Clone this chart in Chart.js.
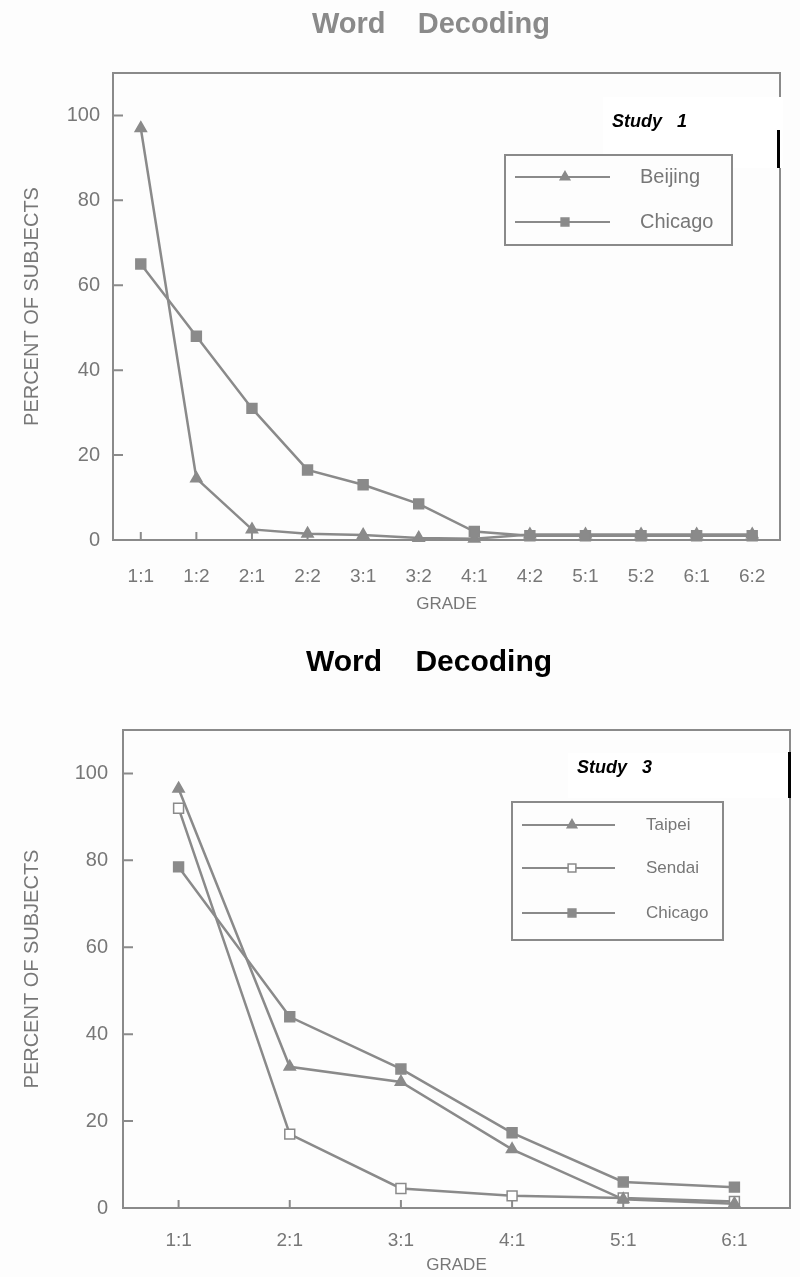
<!DOCTYPE html>
<html>
<head>
<meta charset="utf-8">
<title>Word Decoding</title>
<script src="https://cdn.jsdelivr.net/npm/chart.js@4.4.0/dist/chart.umd.min.js"></script>
<style>
  html, body { margin: 0; padding: 0; background: #fdfdfd; }
  .wrap { position: relative; width: 800px; }
  canvas { display: block; }
</style>
</head>
<body>
<div class="wrap" style="height:630px"><canvas id="study1" width="800" height="630"></canvas></div>
<div class="wrap" style="height:647px"><canvas id="study3" width="800" height="647"></canvas></div>
<script>
// --- DATA ---
const study1Grades = ['1:1', '1:2', '2:1', '2:2', '3:1', '3:2', '4:1', '4:2', '5:1', '5:2', '6:1', '6:2'];
const beijing = [97, 14.5, 2.5, 1.5, 1.2, 0.5, 0.3, 1.3, 1.3, 1.3, 1.3, 1.3];
const chicago1 = [65, 48, 31, 16.5, 13, 8.5, 2, 1, 1, 1, 1, 1];

const study3Grades = ['1:1', '2:1', '3:1', '4:1', '5:1', '6:1'];
const taipei = [96.5, 32.5, 29, 13.5, 2, 1];
const sendai = [92, 17, 4.5, 2.8, 2.3, 1.5];
const chicago3 = [78.5, 44, 32, 17.3, 6, 4.8];

const yTicks = [0, 20, 40, 60, 80, 100];

// --- STYLE ---
const GREY = '#8a8a8a';
const TEXT_GREY = '#777777';
const FONT = "'Liberation Sans', Arial, Helvetica, sans-serif";

// chart heading, placed where the scan has it
const heading = {
    id: 'heading',
    afterDraw(chart, args, o) {
        const ctx = chart.ctx;
        ctx.save();
        ctx.fillStyle = o.color;
        ctx.font = o.font;
        ctx.textBaseline = 'middle';
        ctx.textAlign = 'left';
        ctx.fillText(o.text, o.x, o.y);
        ctx.restore();
    }
};

// plot frame + short inward tick marks
const framePlugin = {
    id: 'frame',
    beforeDatasetsDraw(chart) {
        const { ctx, chartArea: a, scales: { x, y } } = chart;
        ctx.save();
        ctx.strokeStyle = GREY;
        ctx.lineWidth = 2;
        ctx.strokeRect(a.left, a.top, a.right - a.left, a.bottom - a.top);
        ctx.beginPath();
        y.ticks.forEach((t, i) => {
            const py = y.getPixelForTick(i);
            ctx.moveTo(a.left, py);
            ctx.lineTo(a.left + 10, py);
        });
        x.ticks.forEach((t, i) => {
            const px = x.getPixelForTick(i);
            ctx.moveTo(px, a.bottom);
            ctx.lineTo(px, a.bottom - 8);
        });
        ctx.stroke();
        ctx.restore();
    }
};

// pasted-on "Study n" label (drawn before the legend box)
const studyTag = {
    id: 'studyTag',
    afterDatasetsDraw(chart, args, o) {
        const ctx = chart.ctx;
        ctx.save();
        ctx.fillStyle = '#ffffff';
        ctx.fillRect(o.patch[0], o.patch[1], o.patch[2] - o.patch[0], o.patch[3] - o.patch[1]);
        ctx.fillStyle = '#000000';
        ctx.fillRect(o.bar[0], o.bar[1], 3, o.bar[2] - o.bar[1]);
        ctx.font = 'italic bold 18px ' + FONT;
        ctx.textBaseline = 'middle';
        ctx.fillText(o.text, o.x, o.y);
        ctx.restore();
    }
};

// framed legend: line sample with the marker in the middle
const boxLegend = {
    id: 'boxLegend',
    afterDatasetsDraw(chart, args, o) {
        const ctx = chart.ctx;
        ctx.save();
        ctx.fillStyle = '#fdfdfd';
        ctx.fillRect(o.left, o.top, o.right - o.left, o.bottom - o.top);
        ctx.strokeStyle = GREY;
        ctx.lineWidth = 2;
        ctx.strokeRect(o.left, o.top, o.right - o.left, o.bottom - o.top);
        chart.data.datasets.forEach((ds, i) => {
            const yy = o.rows[i];
            ctx.strokeStyle = GREY;
            ctx.lineWidth = 2;
            ctx.beginPath();
            ctx.moveTo(o.lineFrom, yy);
            ctx.lineTo(o.lineTo, yy);
            ctx.stroke();
            ctx.fillStyle = ds.pointBackgroundColor;
            ctx.lineWidth = 1.5;
            Chart.helpers.drawPoint(ctx, { pointStyle: ds.pointStyle, radius: 5.5, rotation: 0, borderWidth: 1.5 }, o.markX, yy);
            ctx.fillStyle = TEXT_GREY;
            ctx.font = o.font;
            ctx.textBaseline = 'middle';
            ctx.textAlign = 'left';
            ctx.fillText(ds.label, o.textX, yy);
        });
        ctx.restore();
    }
};

function lineSet(label, data, style, fill, order) {
    return {
        label: label,
        data: data,
        borderColor: GREY,
        borderWidth: 2.5,
        pointStyle: style,
        pointRadius: style === 'triangle' ? 6.5 : 7,
        pointBackgroundColor: fill,
        pointBorderColor: GREY,
        pointBorderWidth: 1.5,
        tension: 0,
        clip: false,
        order: order
    };
}

function buildScales(c) {
    return {
        x: {
            type: 'category',
            offset: true,
            grid: { display: false, drawTicks: false },
            border: { display: false },
            ticks: { color: TEXT_GREY, font: { family: FONT, size: 19 }, padding: c.xPad, maxRotation: 0, autoSkip: false },
            title: { display: true, text: 'GRADE', color: TEXT_GREY, font: { family: FONT, size: 17 }, padding: { top: 0, bottom: c.gradePad } },
            afterFit: s => { s.height = c.xHeight; }
        },
        y: {
            min: 0,
            max: 110,
            grid: { display: false, drawTicks: false },
            border: { display: false },
            afterBuildTicks: s => { s.ticks = yTicks.map(v => ({ value: v })); },
            ticks: { color: TEXT_GREY, font: { family: FONT, size: 20 }, padding: c.yPad },
            title: { display: true, text: 'PERCENT OF SUBJECTS', color: TEXT_GREY, font: { family: FONT, size: 20 }, padding: { top: c.yTitlePad, bottom: 0 } },
            afterFit: s => { s.width = c.yWidth; }
        }
    };
}

const baseOptions = {
    responsive: false,
    animation: false,
    events: []
};

// --- STUDY 1 ---
new Chart(document.getElementById('study1'), {
    type: 'line',
    data: {
        labels: study1Grades,
        datasets: [
            lineSet('Beijing', beijing, 'triangle', GREY, 1),
            lineSet('Chicago', chicago1, 'rect', GREY, 0)
        ]
    },
    options: Object.assign({}, baseOptions, {
        layout: { padding: { left: 0, right: 20, top: 73, bottom: 0 } },
        scales: buildScales({ xPad: 25, gradePad: 15, xHeight: 90, yPad: 13, yTitlePad: 20, yWidth: 113 }),
        plugins: {
            legend: { display: false },
            tooltip: { enabled: false },
            heading: { text: 'Word    Decoding', x: 312, y: 25, color: '#8a8a8a', font: 'bold 29px ' + FONT },
            studyTag: { patch: [603, 97, 783, 168], bar: [777, 130, 168], text: 'Study   1', x: 612, y: 122 },
            boxLegend: { left: 505, top: 155, right: 732, bottom: 245, rows: [177, 222], lineFrom: 515, lineTo: 610, markX: 565, textX: 640, font: '20px ' + FONT }
        }
    }),
    plugins: [framePlugin, studyTag, boxLegend, heading]
});

// --- STUDY 3 ---
new Chart(document.getElementById('study3'), {
    type: 'line',
    data: {
        labels: study3Grades,
        datasets: [
            lineSet('Taipei', taipei, 'triangle', GREY, 1),
            lineSet('Sendai', sendai, 'rect', '#ffffff', 2),
            lineSet('Chicago', chicago3, 'rect', GREY, 0)
        ]
    },
    options: Object.assign({}, baseOptions, {
        layout: { padding: { left: 0, right: 10, top: 100, bottom: 0 } },
        scales: buildScales({ xPad: 21, gradePad: 1, xHeight: 69, yPad: 15, yTitlePad: 20, yWidth: 123 }),
        plugins: {
            legend: { display: false },
            tooltip: { enabled: false },
            heading: { text: 'Word    Decoding', x: 306, y: 33, color: '#000000', font: 'bold 30px ' + FONT },
            studyTag: { patch: [568, 123, 793, 168], bar: [788, 122, 168], text: 'Study   3', x: 577, y: 138 },
            boxLegend: { left: 512, top: 172, right: 723, bottom: 310, rows: [195, 238, 283], lineFrom: 522, lineTo: 615, markX: 572, textX: 646, font: '17px ' + FONT }
        }
    }),
    plugins: [framePlugin, studyTag, boxLegend, heading]
});
</script>
</body>
</html>
